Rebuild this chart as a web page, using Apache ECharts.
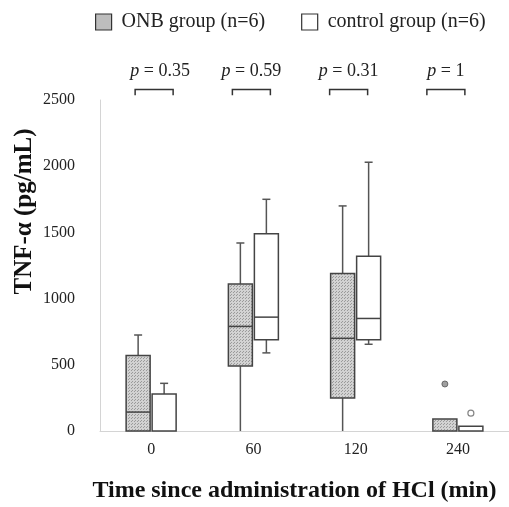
<!DOCTYPE html>
<html>
<head>
<meta charset="utf-8">
<script src="https://cdn.jsdelivr.net/npm/echarts@6/dist/echarts.min.js"></script>
<style>
  html, body { margin: 0; padding: 0; background: #fff; }
  #chart { width: 509px; height: 507px; }
</style>
</head>
<body>
<div id="chart"></div>
<script>
// time points (min)
const categories = ["0", "60", "120", "240"];
// [min, Q1, median, Q3, max] per time point
const onbStats = [
  [0, 0, 143, 570, 725],
  [0, 490, 790, 1110, 1420],
  [0, 250, 700, 1190, 1700],
  [0, 0, 0, 90, 90],
];
const controlStats = [
  [0, 0, 0, 280, 360],
  [590, 690, 860, 1490, 1750],
  [655, 690, 850, 1320, 2030],
  [0, 0, 0, 35, 35],
];
// [category index, value]
const onbOutliers = [[3, 355]];
const controlOutliers = [[3, 135]];
const pValues = ["0.35", "0.59", "0.31", "1"];
const yTicks = [0, 500, 1000, 1500, 2000, 2500];

const FONT = "Liberation Serif";
const BRACKET_TOP = 2580;
const BRACKET_TIP = 2535;
const P_LEVEL = 2720;

// dotted grey fill for the ONB boxes
function makeDots() {
  const c = document.createElement("canvas");
  c.width = 3;
  c.height = 3;
  const ctx = c.getContext("2d");
  ctx.fillStyle = "#d2d2d2";
  ctx.fillRect(0, 0, 3, 3);
  ctx.fillStyle = "#9a9a9a";
  ctx.fillRect(0, 0, 1, 1);
  ctx.fillRect(2, 1, 1, 1);
  return c;
}
const dots = { image: makeDots(), repeat: "repeat" };

function boxRenderer(side, fill) {
  return function (params, api) {
    const i = api.value(0);
    const pMin = api.coord([i, api.value(1)]);
    const pQ1 = api.coord([i, api.value(2)]);
    const pMed = api.coord([i, api.value(3)]);
    const pQ3 = api.coord([i, api.value(4)]);
    const pMax = api.coord([i, api.value(5)]);
    const half = 12;
    const cx = pMin[0] + side * 13;
    const line = { stroke: "#555", lineWidth: 1.5 };
    const kids = [];
    if (api.value(5) > api.value(4)) {
      kids.push({ type: "line", shape: { x1: cx, y1: pQ3[1], x2: cx, y2: pMax[1] }, style: line });
      kids.push({ type: "line", shape: { x1: cx - 4, y1: pMax[1], x2: cx + 4, y2: pMax[1] }, style: line });
    }
    if (api.value(2) > api.value(1)) {
      kids.push({ type: "line", shape: { x1: cx, y1: pQ1[1], x2: cx, y2: pMin[1] }, style: line });
      if (api.value(1) > 0) {
        kids.push({ type: "line", shape: { x1: cx - 4, y1: pMin[1], x2: cx + 4, y2: pMin[1] }, style: line });
      }
    }
    kids.push({
      type: "rect",
      shape: { x: cx - half, y: pQ3[1], width: half * 2, height: pQ1[1] - pQ3[1] },
      style: { fill: fill, stroke: "#444", lineWidth: 1.5 },
    });
    if (api.value(3) > 0) {
      kids.push({ type: "line", shape: { x1: cx - half, y1: pMed[1], x2: cx + half, y2: pMed[1] }, style: { stroke: "#444", lineWidth: 1.5 } });
    }
    return { type: "group", children: kids };
  };
}

function bracketRenderer(params, api) {
  const i = api.value(0);
  const dx = 3 - 5 * i;
  const top = api.coord([i, BRACKET_TOP]);
  const tip = api.coord([i, BRACKET_TIP]);
  const lbl = api.coord([i, P_LEVEL]);
  const x = top[0] + dx;
  return {
    type: "group",
    children: [
      {
        type: "polyline",
        shape: { points: [[x - 19, tip[1]], [x - 19, top[1]], [x + 19, top[1]], [x + 19, tip[1]]] },
        style: { stroke: "#333", lineWidth: 1.5, fill: null },
      },
      {
        type: "text",
        x: x + (i === 0 ? 6 : 0),
        y: lbl[1],
        style: {
          text: "{i|p} = " + pValues[i],
          rich: { i: { fontStyle: "italic", fontFamily: FONT, fontSize: 18, fill: "#222" } },
          fontFamily: FONT,
          fontSize: 18,
          fill: "#222",
          align: "center",
          verticalAlign: "middle",
        },
      },
    ],
  };
}

const chart = echarts.init(document.getElementById("chart"));
chart.setOption({
  animation: false,
  grid: { left: 100, right: 0, top: 100, bottom: 76, outerBoundsMode: "none", containLabel: false },
  legend: {
    top: 7,
    left: 90,
    itemWidth: 16,
    itemHeight: 16,
    itemGap: 36,
    icon: "rect",
    textStyle: { fontFamily: FONT, fontSize: 20, color: "#222", padding: [0, 0, 0, 5] },
    data: [
      { name: "ONB group (n=6)", itemStyle: { color: "#bdbdbd", borderColor: "#333", borderWidth: 1.2 } },
      { name: "control group (n=6)", itemStyle: { color: "#fff", borderColor: "#333", borderWidth: 1.2 } },
    ],
  },
  xAxis: {
    type: "category",
    data: categories,
    axisLine: { lineStyle: { color: "#d4d4d4", width: 1 } },
    axisTick: { show: false },
    axisLabel: { fontFamily: FONT, fontSize: 16, color: "#222", margin: 11 },
    name: "Time since administration of HCl (min)",
    nameLocation: "middle",
    nameGap: 48,
    nameTextStyle: { fontFamily: FONT, fontSize: 24, fontWeight: "bold", color: "#111", padding: [0, 20, 0, 0] },
  },
  yAxis: {
    type: "value",
    min: yTicks[0],
    max: yTicks[yTicks.length - 1],
    interval: 500,
    splitLine: { show: false },
    axisLine: { show: true, lineStyle: { color: "#d4d4d4", width: 1 } },
    axisTick: { show: false },
    axisLabel: { fontFamily: FONT, fontSize: 16, color: "#222", margin: 25, formatter: (v) => String(v) },
    name: "TNF-α (pg/mL)",
    nameLocation: "middle",
    nameGap: 63,
    nameMoveOverlap: false,
    nameTextStyle: { fontFamily: FONT, fontSize: 25, fontWeight: "bold", color: "#111", padding: [0, 0, 0, 108] },
  },
  series: [
    {
      name: "ONB group (n=6)",
      type: "custom",
      renderItem: boxRenderer(-1, dots),
      itemStyle: { color: "#bdbdbd" },
      encode: { x: 0, y: [1, 2, 3, 4, 5] },
      data: onbStats.map((s, i) => [i].concat(s)),
      z: 3,
    },
    {
      name: "control group (n=6)",
      type: "custom",
      renderItem: boxRenderer(1, "#fff"),
      itemStyle: { color: "#fff" },
      encode: { x: 0, y: [1, 2, 3, 4, 5] },
      data: controlStats.map((s, i) => [i].concat(s)),
      z: 3,
    },
    {
      name: "ONB outliers",
      type: "scatter",
      symbol: "circle",
      symbolSize: 6,
      symbolOffset: [-13, 0],
      itemStyle: { color: "#888", borderColor: "#555", borderWidth: 1 },
      data: onbOutliers,
    },
    {
      name: "control outliers",
      type: "scatter",
      symbol: "circle",
      symbolSize: 6,
      symbolOffset: [13, 0],
      itemStyle: { color: "#fff", borderColor: "#666", borderWidth: 1.2 },
      data: controlOutliers,
    },
    {
      name: "p values",
      type: "custom",
      clip: false,
      renderItem: bracketRenderer,
      encode: { x: 0, y: 1 },
      data: pValues.map((p, i) => [i, BRACKET_TOP]),
      z: 5,
    },
  ],
});
</script>
</body>
</html>
